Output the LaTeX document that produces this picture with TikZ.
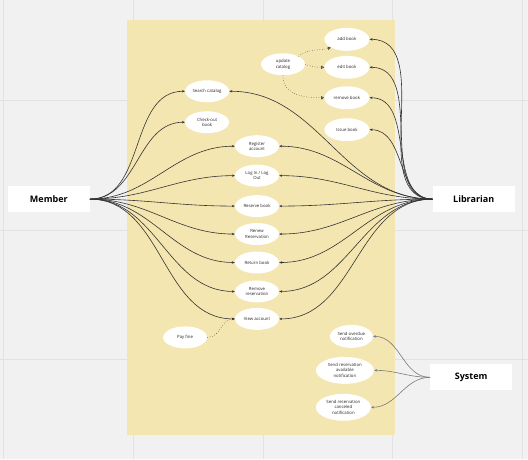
\documentclass[tikz,border=0pt]{standalone}
\usepackage{fontspec}
\setmainfont{Open Sans}
\usetikzlibrary{arrows.meta,shapes.geometric}
\definecolor{canvas}{HTML}{F1F1F1}
\definecolor{gridline}{HTML}{E2E2E2}
\definecolor{boundary}{HTML}{F5E6AB}
\definecolor{ink}{HTML}{333333}
\definecolor{sysink}{HTML}{7A7A7A}
\begin{document}
\begin{tikzpicture}[x=1pt,y=-1pt,
  uc/.style={ellipse, fill=white, inner sep=0pt, minimum width=44pt, minimum height=22pt,
    align=center, text=black!85, font=\fontsize{4.3}{5.2}\selectfont},
  actor/.style={rectangle, fill=white, minimum width=82pt, minimum height=26pt,
    font=\fontsize{9}{10}\selectfont\bfseries},
  assoc/.style={draw=ink, line width=0.6pt, -{Stealth[length=3pt,width=2.4pt]}},
  sysassoc/.style={draw=sysink, line width=0.6pt, -{Stealth[length=3pt,width=2.4pt]}},
  incl/.style={draw=ink, line width=0.5pt, dotted, -{Triangle[open,length=3pt,width=3pt]}},
  dep/.style={draw=ink, line width=0.5pt, dotted, -{Stealth[length=3pt,width=2.4pt]}},
]
% canvas and grid
\fill[canvas] (0,0) rectangle (528,459);
\foreach \gx in {3,133,263,393,523} \draw[gridline, line width=0.8pt] (\gx,0) -- (\gx,459);
\foreach \gy in {100,230,360} \draw[gridline, line width=0.8pt] (0,\gy) -- (528,\gy);
% system boundary
\fill[boundary, opacity=0.92] (127,20) rectangle (395,435);

% actors
\node[actor] (member) at (48.5,199) {Member};
\node[actor] (librarian) at (474,199) {Librarian};
\node[actor] (system) at (471.5,377.5) {System};

% use cases
\node[uc] (search) at (207,91) {Search catalog};
\node[uc] (checkout) at (207,122) {Check-out\\book};
\node[uc] (register) at (257,146) {Register\\account};
\node[uc] (login) at (257,175.5) {Log In / Log\\Out};
\node[uc] (reserve) at (257,206) {Reserve book};
\node[uc] (renew) at (257,234) {Renew\\Reservation};
\node[uc] (return) at (257,262.5) {Return book};
\node[uc] (removeres) at (257,291.5) {Remove\\reservation};
\node[uc] (view) at (257,319) {View account};
\node[uc] (payfine) at (185,337.5) {Pay fine};
\node[uc] (update) at (283,64) {update\\catalog};
\node[uc, minimum width=45pt, minimum height=23pt] (addbook) at (347,39) {add book};
\node[uc, minimum width=45pt, minimum height=23pt] (editbook) at (347,67) {edit book};
\node[uc, minimum width=45pt, minimum height=23pt] (removebook) at (347,97.5) {remove book};
\node[uc, minimum width=45pt, minimum height=23pt] (issuebook) at (347,129.5) {Issue book};
\node[uc, minimum width=43pt, minimum height=23pt] (overdue) at (351.5,336.5) {Send overdue\\notification};
\node[uc, minimum width=58pt, minimum height=27pt] (available) at (345,370.5) {Send reservation\\available\\notification};
\node[uc, minimum width=55pt, minimum height=27pt] (canceled) at (343.5,407.5) {Send reservation\\canceled\\notification};

% member associations
\foreach \u in {search,checkout,register,login,reserve,renew,return,removeres,view}
  \draw[assoc] (member.east) to[out=0,in=180] (\u.west);

% librarian associations
\foreach \u in {addbook,editbook,removebook,issuebook,search,register,login,reserve,renew,return,removeres,view}
  \draw[assoc] (librarian.west) to[out=180,in=0] (\u.east);

% system associations
\foreach \u in {overdue,available,canceled}
  \draw[sysassoc] (system.west) to[out=180,in=0] (\u.east);

% update catalog extensions
\draw[incl] (update.north east) .. controls +(8,-8) and +(-10,3) .. (addbook.south west);
\draw[incl] (update.east) .. controls +(6,2) and +(-8,0) .. (editbook.west);
\draw[incl] (update.south) .. controls +(0,20) and +(-20,0) .. (removebook.west);

% pay fine dependency
\draw[dep] (payfine.east) .. controls +(14,0) and +(-14,0) .. (view.west);
\end{tikzpicture}
\end{document}
